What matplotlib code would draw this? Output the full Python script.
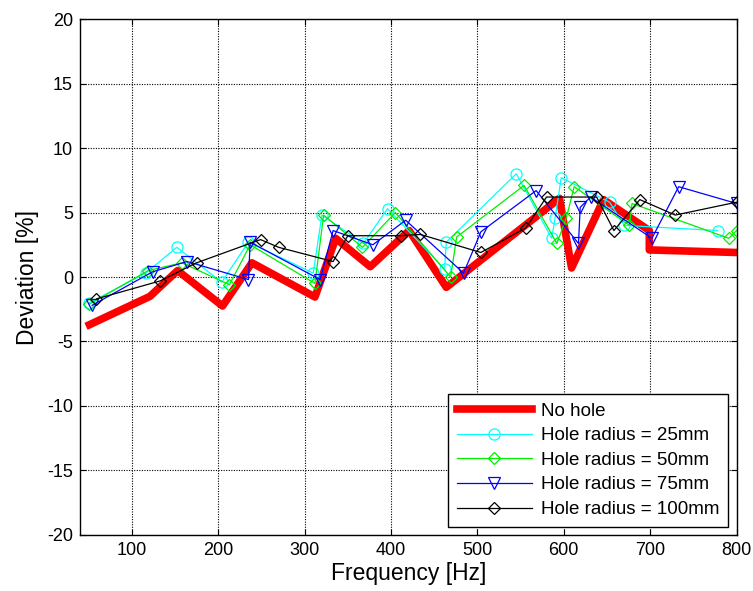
import matplotlib
matplotlib.use("Agg")
import matplotlib.pyplot as plt

plt.rcParams['font.family'] = ['Liberation Sans', 'DejaVu Sans']
plt.rcParams['axes.unicode_minus'] = False

# No hole
f_none = [51, 121, 153, 205, 239, 312, 336, 376, 421, 464, 595, 609, 646, 699, 699, 800]
d_none = [-3.7, -1.5, 0.5, -2.25, 1.1, -1.55, 3.0, 0.8, 3.6, -0.8, 6.1, 0.7, 6.0, 3.6, 2.1, 1.9]

# Hole radius = 25mm
f_25 = [51, 116, 152, 204, 235, 310, 320, 368, 396, 462, 464, 545, 586, 590, 597, 653, 670, 778]
d_25 = [-2.0, 0.3, 2.3, -0.4, 2.7, 0.3, 4.8, 2.6, 5.3, 0.6, 2.7, 8.0, 3.0, 4.6, 7.7, 5.8, 4.0, 3.6]

# Hole radius = 50mm
f_50 = [51, 119, 158, 213, 237, 312, 322, 367, 405, 469, 476, 554, 592, 603, 612, 676, 679, 791, 800]
d_50 = [-2.1, 0.5, 1.1, -0.6, 2.5, -0.5, 4.8, 2.3, 5.0, 0.0, 3.1, 7.1, 2.6, 4.6, 7.0, 4.0, 5.7, 3.0, 3.6]

# Hole radius = 75mm
f_75 = [54, 124, 164, 235, 237, 318, 333, 379, 417, 484, 504, 568, 617, 619, 631, 702, 733, 800]
d_75 = [-2.2, 0.4, 1.2, -0.2, 2.7, -0.2, 3.6, 2.5, 4.4, 0.3, 3.5, 6.7, 2.6, 5.4, 6.2, 3.0, 7.0, 5.7]

# Hole radius = 100mm
f_100 = [59, 133, 175, 249, 270, 333, 350, 411, 434, 504, 556, 580, 638, 658, 688, 729, 800]
d_100 = [-1.7, -0.3, 1.1, 2.9, 2.3, 1.2, 3.2, 3.2, 3.3, 1.9, 3.8, 6.2, 6.2, 3.6, 6.0, 4.8, 5.8]

fig = plt.figure(figsize=(7.53, 5.91), dpi=100)
ax = fig.add_axes([0.1062, 0.0948, 0.872, 0.873])

ax.plot(f_none, d_none, color='red', lw=5.5, solid_joinstyle='round', label='No hole')
ax.plot(f_25, d_25, color='cyan', lw=0.9, marker='o', ms=8, mfc='none', mew=0.9,
        label='Hole radius = 25mm')
ax.plot(f_50, d_50, color='#00ee00', lw=0.9, marker='D', ms=6.5, mfc='none', mew=0.9,
        label='Hole radius = 50mm')
ax.plot(f_75, d_75, color='blue', lw=0.9, marker='v', ms=9, mfc='none', mew=0.9,
        label='Hole radius = 75mm')
ax.plot(f_100, d_100, color='black', lw=0.9, marker='D', ms=6.5, mfc='none', mew=0.9,
        label='Hole radius = 100mm')

ax.set_xlim(40, 800)
ax.set_ylim(-20, 20)
ax.set_xticks(range(100, 801, 100))
ax.set_yticks(range(-20, 21, 5))
ax.grid(True, color='black', linestyle=(0, (1, 1.3)), linewidth=0.8)
ax.tick_params(direction='in', top=True, right=True, labelsize=13, length=4, pad=5)
for s in ax.spines.values():
    s.set_linewidth(1.0)

ax.set_xlabel('Frequency [Hz]', fontsize=16.5, labelpad=2)
ax.set_ylabel('Deviation [%]', fontsize=16.5, labelpad=6)

leg = ax.legend(loc='lower right', fontsize=13.5, fancybox=False, framealpha=1,
                edgecolor='black', borderaxespad=0.45, handlelength=4.0,
                labelspacing=0.4, borderpad=0.45, handletextpad=0.5)
leg.get_frame().set_linewidth(1.0)

fig.savefig('out.png', dpi=100)
